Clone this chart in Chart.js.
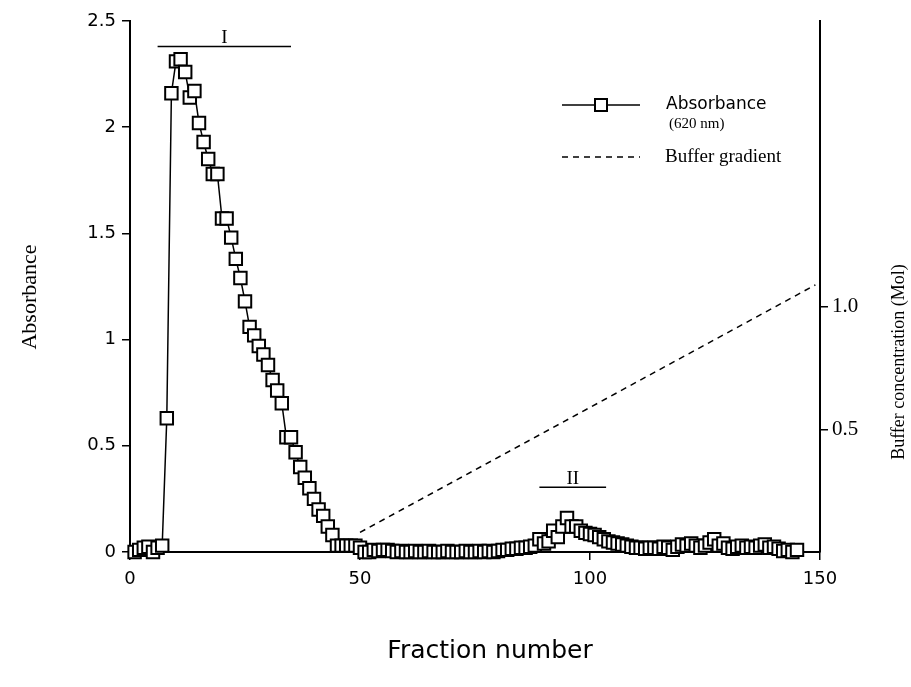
<!DOCTYPE html>
<html>
<head>
<meta charset="utf-8">
<script src="https://cdn.jsdelivr.net/npm/chart.js@4.4.0/dist/chart.umd.min.js"></script>
<style>
  html, body { margin: 0; padding: 0; background: #fff; }
  #wrap { width: 911px; height: 687px; }
</style>
</head>
<body>
<div id="wrap"><canvas id="chart"></canvas></div>
<script>
// numéros de fraction
const fractions = [
  1, 2, 3, 4, 5, 6, 7, 8, 9, 10, 11, 12, 13, 14, 15, 16, 17, 18, 19, 20,
  21, 22, 23, 24, 25, 26, 27, 28, 29, 30, 31, 32, 33, 34, 35, 36, 37, 38, 39, 40,
  41, 42, 43, 44, 45, 46, 47, 48, 49, 50, 51, 52, 53, 54, 55, 56, 57, 58, 59, 60,
  61, 62, 63, 64, 65, 66, 67, 68, 69, 70, 71, 72, 73, 74, 75, 76, 77, 78, 79, 80,
  81, 82, 83, 84, 85, 86, 87, 88, 89, 90, 91, 92, 93, 94, 95, 96, 97, 98, 99, 100,
  101, 102, 103, 104, 105, 106, 107, 108, 109, 110, 111, 112, 113, 114, 115, 116, 117, 118, 119, 120,
  121, 122, 123, 124, 125, 126, 127, 128, 129, 130, 131, 132, 133, 134, 135, 136, 137, 138, 139, 140,
  141, 142, 143, 144, 145
];

// absorbance (620 nm), une valeur par fraction
const absorbance = [
  0.00, 0.01, 0.02, 0.025, 0.00, 0.02, 0.03, 0.63, 2.16, 2.31,
  2.32, 2.26, 2.14, 2.17, 2.02, 1.93, 1.85, 1.78, 1.78, 1.57,
  1.57, 1.48, 1.38, 1.29, 1.18, 1.06, 1.02, 0.97, 0.93, 0.88,
  0.81, 0.76, 0.70, 0.54, 0.54, 0.47, 0.40, 0.35, 0.30, 0.25,
  0.20, 0.17, 0.12, 0.08, 0.03, 0.03, 0.03, 0.03, 0.03, 0.02,
  0.00, 0.00, 0.01, 0.005, 0.01, 0.01, 0.005, 0.00, 0.005, 0.00,
  0.00, 0.005, 0.00, 0.00, 0.005, 0.00, 0.00, 0.00, 0.005, 0.00,
  0.00, 0.00, 0.005, 0.00, 0.00, 0.005, 0.00, 0.005, 0.00, 0.005,
  0.01, 0.01, 0.015, 0.015, 0.02, 0.02, 0.025, 0.03, 0.06, 0.04,
  0.05, 0.10, 0.07, 0.12, 0.16, 0.12, 0.12, 0.10, 0.09, 0.085,
  0.08, 0.07, 0.06, 0.05, 0.045, 0.04, 0.035, 0.03, 0.025, 0.02,
  0.02, 0.015, 0.02, 0.02, 0.015, 0.025, 0.02, 0.01, 0.025, 0.035,
  0.03, 0.04, 0.03, 0.02, 0.03, 0.045, 0.06, 0.03, 0.04, 0.02,
  0.015, 0.025, 0.03, 0.02, 0.025, 0.02, 0.03, 0.035, 0.02, 0.025,
  0.015, 0.005, 0.01, 0.00, 0.01
];

// gradient de tampon (Mol), début et fin
const gradientFractions = [50, 149];
const gradientMol = [0.08, 1.09];

// barres des pics I et II
const peakLabels = ['I', 'II'];
const peakFrom = [6, 89];
const peakTo = [35, 103.5];
const peakLevel = [2.38, 0.305];

const xTicks = [0, 50, 100, 150];
const molTicks = [0.5, 1.0];

const SERIF = '"Liberation Serif", "Times New Roman", serif';
const SANS = '"DejaVu Sans", Verdana, sans-serif';

const overlay = {
  id: 'overlay',
  afterDatasetsDraw(chart) {
    const { ctx, scales: { x, y } } = chart;
    ctx.save();
    ctx.strokeStyle = '#000';
    ctx.fillStyle = '#000';

    // barres des pics
    for (let i = 0; i < peakLabels.length; i++) {
      const yy = y.getPixelForValue(peakLevel[i]);
      const x1 = x.getPixelForValue(peakFrom[i]);
      const x2 = x.getPixelForValue(peakTo[i]);
      ctx.lineWidth = 1.5;
      ctx.beginPath();
      ctx.moveTo(x1, yy);
      ctx.lineTo(x2, yy);
      ctx.stroke();
      ctx.font = '19px ' + SERIF;
      ctx.textAlign = 'center';
      ctx.textBaseline = 'alphabetic';
      ctx.fillText(peakLabels[i], (x1 + x2) / 2, yy - 3);
    }

    // légende
    ctx.lineWidth = 1.5;
    ctx.beginPath();
    ctx.moveTo(562, 105);
    ctx.lineTo(640, 105);
    ctx.stroke();
    ctx.fillStyle = '#fff';
    ctx.lineWidth = 2;
    ctx.fillRect(595, 99, 12, 12);
    ctx.strokeRect(595, 99, 12, 12);
    ctx.fillStyle = '#000';
    ctx.setLineDash([6, 5]);
    ctx.lineWidth = 1.5;
    ctx.beginPath();
    ctx.moveTo(562, 157);
    ctx.lineTo(640, 157);
    ctx.stroke();
    ctx.setLineDash([]);

    ctx.textAlign = 'left';
    ctx.textBaseline = 'middle';
    ctx.font = '17px ' + SANS;
    ctx.fillText('Absorbance', 666, 105);
    ctx.font = '15px ' + SERIF;
    ctx.fillText('(620 nm)', 669, 124);
    ctx.font = '19px ' + SERIF;
    ctx.fillText('Buffer gradient', 665, 157);

    // titres des axes
    ctx.font = '25px ' + SANS;
    ctx.textAlign = 'center';
    ctx.fillText('Fraction number', 490, 651);

    ctx.save();
    ctx.translate(30, 297);
    ctx.rotate(-Math.PI / 2);
    ctx.font = '22px ' + SERIF;
    ctx.fillText('Absorbance', 0, 0);
    ctx.restore();

    ctx.save();
    ctx.translate(899, 362);
    ctx.rotate(-Math.PI / 2);
    ctx.font = '18px ' + SERIF;
    ctx.fillText('Buffer concentration (Mol)', 0, 0);
    ctx.restore();

    ctx.restore();
  }
};

const tickGrid = {
  display: true,
  drawOnChartArea: false,
  drawTicks: true,
  tickLength: 8,
  color: '#000',
  lineWidth: 1.5
};

new Chart(document.getElementById('chart'), {
  type: 'line',
  data: {
    datasets: [
      {
        label: 'Absorbance',
        data: fractions.map((f, i) => ({ x: f, y: absorbance[i] })),
        yAxisID: 'y',
        borderColor: '#000',
        borderWidth: 1.5,
        pointStyle: 'rect',
        pointRadius: 8.8,
        pointBorderWidth: 2,
        pointBorderColor: '#000',
        pointBackgroundColor: '#fff',
        tension: 0,
        clip: false
      },
      {
        label: 'Buffer gradient',
        data: gradientFractions.map((f, i) => ({ x: f, y: gradientMol[i] })),
        yAxisID: 'y1',
        borderColor: '#000',
        borderWidth: 1.5,
        borderDash: [6, 5],
        pointRadius: 0,
        tension: 0
      }
    ]
  },
  options: {
    responsive: true,
    maintainAspectRatio: false,
    animation: false,
    layout: { padding: { top: 21, left: 0, right: 0, bottom: 0 } },
    plugins: {
      legend: { display: false },
      tooltip: { enabled: false }
    },
    scales: {
      x: {
        type: 'linear',
        min: 0,
        max: 150,
        afterBuildTicks: s => { s.ticks = xTicks.map(v => ({ value: v })); },
        afterFit: s => { s.height = 135; },
        grid: tickGrid,
        border: { display: true, color: '#000', width: 2 },
        ticks: { color: '#000', font: { family: SANS, size: 18 }, padding: 9, maxRotation: 0 }
      },
      y: {
        position: 'left',
        min: 0,
        max: 2.5,
        afterFit: s => { s.width = 130; },
        grid: tickGrid,
        border: { display: true, color: '#000', width: 2 },
        ticks: {
          stepSize: 0.5,
          color: '#000',
          font: { family: SANS, size: 18 },
          padding: 6,
          callback: v => String(v)
        }
      },
      y1: {
        position: 'right',
        min: 0,
        max: 2.167,
        afterBuildTicks: s => { s.ticks = molTicks.map(v => ({ value: v })); },
        afterFit: s => { s.width = 91; },
        grid: tickGrid,
        border: { display: true, color: '#000', width: 2 },
        ticks: {
          color: '#000',
          font: { family: SERIF, size: 21 },
          padding: 4,
          callback: v => v.toFixed(1)
        }
      }
    }
  },
  plugins: [overlay]
});
</script>
</body>
</html>
